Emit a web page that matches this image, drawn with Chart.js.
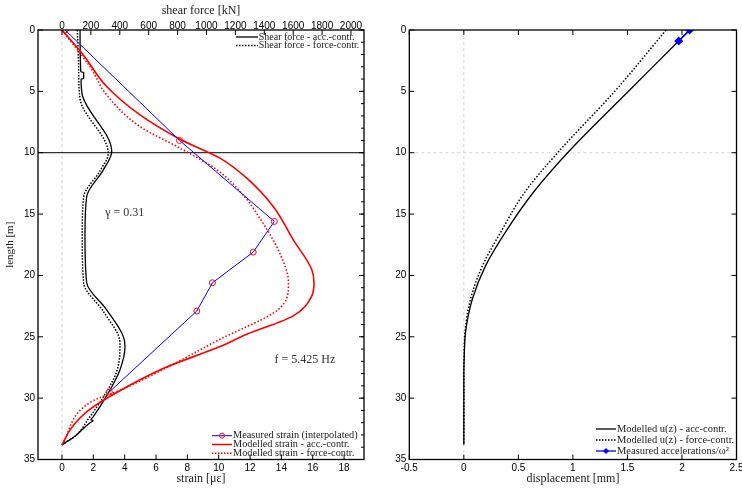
<!DOCTYPE html>
<html>
<head>
<meta charset="utf-8">
<script src="https://cdn.jsdelivr.net/npm/chart.js@4.4.1/dist/chart.umd.min.js"></script>
<style>
  body { margin: 0; background: #fff; }
  #left { position: absolute; left: 0; top: 0; }
  #right { position: absolute; left: 380px; top: 0; }
</style>
</head>
<body>
<canvas id="left" width="380" height="491"></canvas>
<canvas id="right" width="362" height="491"></canvas>
<script>
// tick labels
const strainTicks = [0, 2, 4, 6, 8, 10, 12, 14, 16, 18];
const shearTicks = [0, 200, 400, 600, 800, 1000, 1200, 1400, 1600, 1800, 2000];
const lengthTicks = [0, 5, 10, 15, 20, 25, 30, 35];
const dispTicks = [-0.5, 0, 0.5, 1, 1.5, 2, 2.5];

// measured strain (interpolated)
const measLength = [0, 9.0, 15.6, 18.1, 20.6, 22.9, 29.5];
const measStrain = [0.2, 7.5, 13.55, 12.2, 9.6, 8.6, 3.02];

// modelled strain
const accLength = [0, 2.03, 4.61, 6.92, 8.9, 10.44, 12.07, 14.4, 17.1, 19.5, 20.6, 21.7, 23.3, 24.8, 25.8, 27.5, 28.5, 30.9, 32.4, 33.8];
const accStrain = [0, 1.36, 2.85, 4.98, 7.53, 10.08, 11.79, 13.49, 14.76, 15.93, 16.08, 15.93, 14.76, 11.79, 10.08, 6.6, 4.98, 1.79, 0.62, 0];
const forceLength = [0, 3.0, 5.29, 7.87, 9.63, 11.4, 13.8, 14.9, 18.2, 20.6, 22.0, 23.05, 25.2, 27.3, 29.2, 30.35, 33.8];
const forceStrain = [0, 1.79, 2.85, 4.98, 7.53, 9.9, 11.79, 12.4, 13.9, 14.45, 14.3, 13.5, 10.08, 7.0, 4.0, 1.79, 0];

// shear force [kN]
const shearAccLength = [0, 3.4, 3.45, 3.95, 4.0, 5.4, 9.9, 11.4, 13.56, 16.8, 20.6, 22.8, 24.95, 25.8, 27.7, 29.8, 31.5, 31.75, 31.85, 32.0, 33.1, 33.8];
const shearAcc = [125, 130, 150, 150, 132, 143, 344, 286, 171, 159, 171, 309, 424, 436, 401, 309, 217, 200, 215, 194, 90, 0];
const shearForceLength = [0, 3.0, 5.6, 10.03, 11.5, 13.6, 16.8, 20.6, 23.0, 25.5, 27.7, 29.8, 31.7, 33.0, 33.8];
const shearForce = [106, 115, 125, 320, 262, 150, 140, 150, 290, 401, 382, 292, 182, 100, 0];

// displacement [mm]
const uAccLength = [0, 0.9, 5.03, 9.9, 13.2, 16.45, 19.2, 21.9, 24.6, 26.5, 28, 33.8];
const uAcc = [2.07, 1.97, 1.505, 0.962, 0.64, 0.383, 0.2, 0.079, 0.016, 0.004, 0, 0];
const uForceLength = [0, 5.03, 9.9, 13.2, 16.45, 19.2, 21.9, 24.6, 26.5, 28, 33.8];
const uForce = [1.855, 1.38, 0.87, 0.56, 0.34, 0.172, 0.062, 0.011, 0.003, 0, 0];
const accelLength = [0, 0.9];
const accelDisp = [2.07, 1.97];

function pts(xs, ys) {
  return xs.map((x, i) => ({ x: x, y: ys[i] }));
}

const tickFont = { family: "'Liberation Sans', Arial, sans-serif", size: 10 };
const titleFont = { family: "'Liberation Serif', 'DejaVu Serif', serif", size: 12 };
const textColor = '#222';
const plain = v => String(v);

function fixTicks(list) {
  return function (scale) {
    scale.ticks = list.map(v => ({ value: v }));
  };
}

// force axis box sizes, drop the automatic label overflow padding
function fitH(h) {
  return s => { s.height = h; s.paddingLeft = 0; s.paddingRight = 0; };
}
function fitW(w) {
  return s => { s.width = w; s.paddingTop = 0; s.paddingBottom = 0; };
}

function inTicks(ctx, scale, values, side, len, a) {
  ctx.beginPath();
  values.forEach(v => {
    const p = scale.getPixelForValue(v);
    if (side == 'bottom') { ctx.moveTo(p, a.bottom); ctx.lineTo(p, a.bottom - len); }
    if (side == 'top') { ctx.moveTo(p, a.top); ctx.lineTo(p, a.top + len); }
    if (side == 'left') { ctx.moveTo(a.left, p); ctx.lineTo(a.left + len, p); }
    if (side == 'right') { ctx.moveTo(a.right, p); ctx.lineTo(a.right - len, p); }
  });
  ctx.stroke();
}

function drawBox(ctx, a) {
  ctx.strokeStyle = '#000';
  ctx.lineWidth = 1.3;
  ctx.strokeRect(a.left, a.top, a.right - a.left, a.bottom - a.top);
  ctx.lineWidth = 1;
}

function legend(ctx, items, x0, x1, tx, ys, size) {
  ctx.save();
  ctx.font = size + "px 'Liberation Serif', 'DejaVu Serif', serif";
  ctx.textBaseline = 'middle';
  ctx.textAlign = 'left';
  items.forEach((it, i) => {
    const y = ys[i];
    ctx.strokeStyle = it.color;
    ctx.lineWidth = it.width;
    ctx.setLineDash(it.dash || []);
    ctx.beginPath();
    ctx.moveTo(x0, y);
    ctx.lineTo(x1, y);
    ctx.stroke();
    ctx.setLineDash([]);
    const mx = (x0 + x1) / 2;
    if (it.marker == 'circle') {
      ctx.strokeStyle = 'red';
      ctx.lineWidth = 1;
      ctx.beginPath();
      ctx.arc(mx, y, 2.5, 0, Math.PI * 2);
      ctx.stroke();
    }
    if (it.marker == 'diamond') {
      ctx.fillStyle = '#0000ff';
      ctx.beginPath();
      ctx.moveTo(mx, y - 3); ctx.lineTo(mx + 3, y); ctx.lineTo(mx, y + 3); ctx.lineTo(mx - 3, y);
      ctx.closePath();
      ctx.fill();
    }
    ctx.fillStyle = textColor;
    ctx.fillText(it.label, tx, y);
  });
  ctx.restore();
}

const leftDecor = {
  id: 'leftDecor',
  beforeDatasetsDraw(chart) {
    const ctx = chart.ctx, a = chart.chartArea, s = chart.scales;
    ctx.save();
    ctx.strokeStyle = '#cfcfcf';
    ctx.lineWidth = 1;
    ctx.setLineDash([3, 3]);
    const x0 = s.x.getPixelForValue(0);
    ctx.beginPath(); ctx.moveTo(x0, a.top); ctx.lineTo(x0, a.bottom); ctx.stroke();
    ctx.setLineDash([]);
    ctx.strokeStyle = '#000';
    const y10 = s.y.getPixelForValue(10);
    ctx.beginPath(); ctx.moveTo(a.left, y10); ctx.lineTo(a.right, y10); ctx.stroke();
    ctx.restore();
  },
  afterDatasetsDraw(chart) {
    const ctx = chart.ctx, a = chart.chartArea, s = chart.scales;
    ctx.save();
    drawBox(ctx, a);
    ctx.strokeStyle = '#000';
    inTicks(ctx, s.x, strainTicks, 'bottom', 5, a);
    inTicks(ctx, s.x2, shearTicks, 'top', 5, a);
    inTicks(ctx, s.y, lengthTicks, 'left', 5, a);
    const minor = [];
    for (let v = 0; v <= 35; v++) minor.push(v);
    inTicks(ctx, s.y, minor, 'right', 3, a);
    inTicks(ctx, s.y, lengthTicks, 'right', 5, a);

    ctx.font = "12px 'Liberation Serif', 'DejaVu Serif', serif";
    ctx.fillStyle = '#333';
    ctx.textAlign = 'center';
    ctx.textBaseline = 'middle';
    ctx.fillText('\u03b3 = 0.31', s.x.getPixelForValue(4.0), s.y.getPixelForValue(14.9));
    ctx.fillText('f = 5.425 Hz', s.x.getPixelForValue(15.5), s.y.getPixelForValue(26.85));

    legend(ctx, [
      { label: 'Shear force - acc.-contr.', color: '#000', width: 1.3 },
      { label: 'Shear force - force-contr.', color: '#000', width: 1.5, dash: [1.5, 1.5] }
    ], 236, 258, 258.7, [37, 45.5], 10);
    legend(ctx, [
      { label: 'Measured strain (interpolated)', color: '#0000ff', width: 1, marker: 'circle' },
      { label: 'Modelled strain - acc.-contr.', color: 'red', width: 1.5 },
      { label: 'Modelled strain - force-contr.', color: 'red', width: 1.5, dash: [1.5, 1.5] }
    ], 212, 232, 233, [435.7, 444.5, 453.3], 10.3);
    ctx.restore();
  }
};

const rightDecor = {
  id: 'rightDecor',
  beforeDatasetsDraw(chart) {
    const ctx = chart.ctx, a = chart.chartArea, s = chart.scales;
    ctx.save();
    ctx.strokeStyle = '#d6d6d6';
    ctx.lineWidth = 1;
    ctx.setLineDash([3, 3]);
    const x0 = s.x.getPixelForValue(0);
    const y10 = s.y.getPixelForValue(10);
    ctx.beginPath();
    ctx.moveTo(x0, a.top); ctx.lineTo(x0, a.bottom);
    ctx.moveTo(a.left, y10); ctx.lineTo(a.right, y10);
    ctx.stroke();
    ctx.restore();
  },
  afterDatasetsDraw(chart) {
    const ctx = chart.ctx, a = chart.chartArea, s = chart.scales;
    ctx.save();
    drawBox(ctx, a);
    ctx.strokeStyle = '#000';
    inTicks(ctx, s.x, dispTicks, 'bottom', 5, a);
    inTicks(ctx, s.x, dispTicks, 'top', 5, a);
    inTicks(ctx, s.y, lengthTicks, 'left', 5, a);
    inTicks(ctx, s.y, lengthTicks, 'right', 5, a);
    legend(ctx, [
      { label: 'Modelled u(z) - acc-contr.', color: '#000', width: 1.3 },
      { label: 'Modelled u(z) - force-contr.', color: '#000', width: 1.5, dash: [1.5, 1.5] },
      { label: 'Measured accelerations/\u03c9\u00b2', color: '#0000ff', width: 1.3, marker: 'diamond' }
    ], 596 - 380, 616 - 380, 617 - 380, [429, 440, 451], 10.5);
    ctx.restore();
  }
};

const yScale = {
  type: 'linear',
  reverse: true,
  min: 0,
  max: 35,
  grid: { display: false, drawTicks: false },
  border: { display: false },
  afterBuildTicks: fixTicks(lengthTicks),
  ticks: { font: tickFont, color: '#000', padding: 3, callback: plain }
};

const curve = { pointRadius: 0, cubicInterpolationMode: 'monotone' };

new Chart(document.getElementById('left'), {
  type: 'line',
  data: {
    datasets: [
      {
        data: pts(measStrain, measLength),
        borderColor: '#0000ff', borderWidth: 1, tension: 0,
        pointRadius: 3, pointStyle: 'circle', pointBorderColor: 'red',
        pointBackgroundColor: 'rgba(0,0,0,0)', pointBorderWidth: 1
      },
      Object.assign({
        data: pts(accStrain, accLength),
        borderColor: 'red', borderWidth: 1.6
      }, curve),
      Object.assign({
        data: pts(forceStrain, forceLength),
        borderColor: 'red', borderWidth: 1.6, borderDash: [1.5, 2]
      }, curve),
      Object.assign({
        data: pts(shearAcc, shearAccLength), xAxisID: 'x2',
        borderColor: '#000', borderWidth: 1.3
      }, curve),
      Object.assign({
        data: pts(shearForce, shearForceLength), xAxisID: 'x2',
        borderColor: '#000', borderWidth: 1.5, borderDash: [1.5, 1.5]
      }, curve)
    ]
  },
  options: {
    indexAxis: 'y',
    responsive: false,
    animation: false,
    layout: { padding: { left: 0, right: 16, top: 0, bottom: 0 } },
    plugins: { legend: { display: false }, tooltip: { enabled: false } },
    scales: {
      x: {
        type: 'linear', position: 'bottom', min: -1.53, max: 19.27,
        grid: { display: false, drawTicks: false }, border: { display: false },
        afterBuildTicks: fixTicks(strainTicks),
        afterFit: fitH(31.5),
        ticks: { font: tickFont, color: '#000', padding: 3, maxRotation: 0, callback: plain },
        title: { display: true, text: 'strain [\u03bc\u03b5]', font: titleFont, color: textColor, padding: { top: 0, bottom: 5 } }
      },
      x2: {
        type: 'linear', position: 'top', axis: 'x', min: -166, max: 2090,
        grid: { display: false, drawTicks: false }, border: { display: false },
        afterBuildTicks: fixTicks(shearTicks),
        afterFit: fitH(30),
        ticks: { font: tickFont, color: '#000', padding: -2, maxRotation: 0, callback: plain },
        title: { display: true, text: 'shear force [kN]', font: titleFont, color: textColor, padding: { top: 4, bottom: 0 } }
      },
      y: Object.assign({}, yScale, {
        afterFit: fitW(38),
        title: { display: true, text: 'length [m]', font: { family: titleFont.family, size: 11 }, color: textColor, padding: { top: 4, bottom: 0 } }
      })
    }
  },
  plugins: [leftDecor]
});

new Chart(document.getElementById('right'), {
  type: 'line',
  data: {
    datasets: [
      {
        data: pts(accelDisp, accelLength),
        borderColor: '#0000ff', borderWidth: 1.5, tension: 0,
        pointRadius: 3.5, pointStyle: 'rectRot', pointBorderColor: '#0000ff',
        pointBackgroundColor: '#0000ff'
      },
      Object.assign({
        data: pts(uAcc, uAccLength),
        borderColor: '#000', borderWidth: 1.3
      }, curve),
      Object.assign({
        data: pts(uForce, uForceLength),
        borderColor: '#000', borderWidth: 1.5, borderDash: [1.5, 1.8]
      }, curve)
    ]
  },
  options: {
    indexAxis: 'y',
    responsive: false,
    animation: false,
    layout: { padding: { left: 0, right: 4.7, top: 30, bottom: 0 } },
    plugins: { legend: { display: false }, tooltip: { enabled: false } },
    scales: {
      x: {
        type: 'linear', position: 'bottom', min: -0.5, max: 2.5,
        grid: { display: false, drawTicks: false }, border: { display: false },
        afterBuildTicks: fixTicks(dispTicks),
        afterFit: fitH(31.5),
        ticks: { font: tickFont, color: '#000', padding: 3, maxRotation: 0, callback: plain },
        title: { display: true, text: 'displacement [mm]', font: titleFont, color: textColor, padding: { top: 0, bottom: 5 } }
      },
      y: Object.assign({}, yScale, {
        afterFit: fitW(29.3),
        ticks: { font: tickFont, color: '#000', padding: 3, callback: plain }
      })
    }
  },
  plugins: [rightDecor]
});
</script>
</body>
</html>
